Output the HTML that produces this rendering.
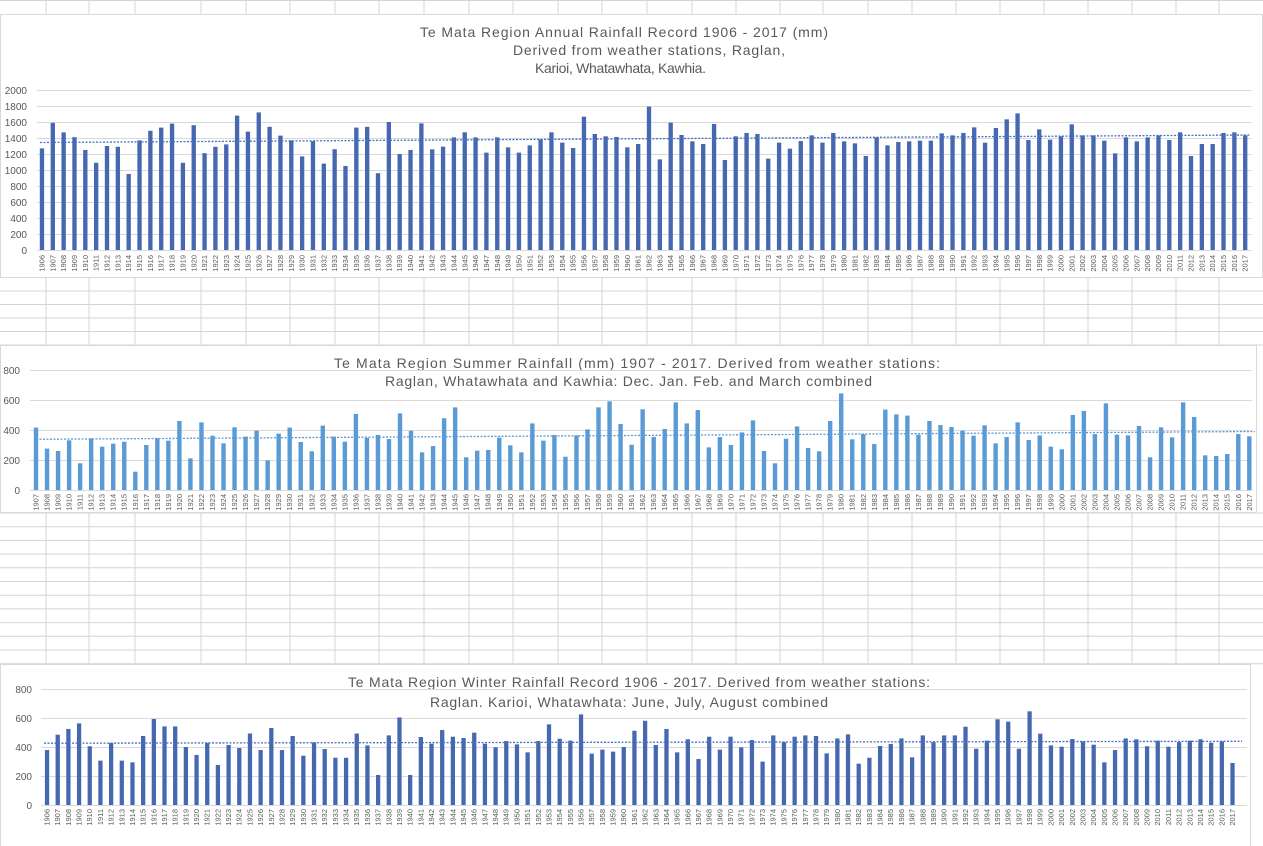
<!DOCTYPE html>
<html><head><meta charset="utf-8"><style>
html,body{margin:0;padding:0;background:#fff;}
svg{display:block;font-family:"Liberation Sans",sans-serif;}
.t{fill:#595959;font-size:14px;}
.ax{fill:#595959;font-size:10px;text-anchor:end;}
.yl text{fill:#595959;font-size:7.5px;text-anchor:end;}
.g line{stroke:#d9d9d9;stroke-width:1;}
.b1 rect,.b3 rect{fill:#4668b0;}
.b2 rect{fill:#5b9bd5;}
</style></head><body>
<svg width="1263" height="846" viewBox="0 0 1263 846" xmlns="http://www.w3.org/2000/svg">
<!-- spreadsheet grid -->
<g stroke="#d4d4d4" stroke-width="1">
<line x1="0" y1="0.5" x2="1263" y2="0.5"/><line x1="0" y1="14.5" x2="1263" y2="14.5"/>
<line x1="0" y1="277.5" x2="1263" y2="277.5"/><line x1="0" y1="291" x2="1263" y2="291"/><line x1="0" y1="304.5" x2="1263" y2="304.5"/><line x1="0" y1="318" x2="1263" y2="318"/><line x1="0" y1="331.5" x2="1263" y2="331.5"/><line x1="0" y1="345" x2="1263" y2="345"/>
<line x1="0" y1="513" x2="1263" y2="513"/><line x1="0" y1="526.7" x2="1263" y2="526.7"/><line x1="0" y1="540.4" x2="1263" y2="540.4"/><line x1="0" y1="554.1" x2="1263" y2="554.1"/><line x1="0" y1="567.8" x2="1263" y2="567.8"/><line x1="0" y1="581.5" x2="1263" y2="581.5"/><line x1="0" y1="595.2" x2="1263" y2="595.2"/><line x1="0" y1="608.9" x2="1263" y2="608.9"/><line x1="0" y1="622.6" x2="1263" y2="622.6"/><line x1="0" y1="636.3" x2="1263" y2="636.3"/><line x1="0" y1="650" x2="1263" y2="650"/><line x1="0" y1="663.7" x2="1263" y2="663.7"/>
<line x1="46" y1="0" x2="46" y2="846"/><line x1="89" y1="0" x2="89" y2="846"/><line x1="135" y1="0" x2="135" y2="846"/><line x1="201" y1="0" x2="201" y2="846"/><line x1="246" y1="0" x2="246" y2="846"/><line x1="290" y1="0" x2="290" y2="846"/><line x1="335" y1="0" x2="335" y2="846"/><line x1="379" y1="0" x2="379" y2="846"/><line x1="424" y1="0" x2="424" y2="846"/><line x1="469" y1="0" x2="469" y2="846"/><line x1="513" y1="0" x2="513" y2="846"/><line x1="558" y1="0" x2="558" y2="846"/><line x1="602" y1="0" x2="602" y2="846"/><line x1="647" y1="0" x2="647" y2="846"/><line x1="692" y1="0" x2="692" y2="846"/><line x1="736" y1="0" x2="736" y2="846"/><line x1="780" y1="0" x2="780" y2="846"/><line x1="823" y1="0" x2="823" y2="846"/><line x1="868" y1="0" x2="868" y2="846"/><line x1="912" y1="0" x2="912" y2="846"/><line x1="956" y1="0" x2="956" y2="846"/><line x1="1000" y1="0" x2="1000" y2="846"/><line x1="1044" y1="0" x2="1044" y2="846"/><line x1="1088" y1="0" x2="1088" y2="846"/><line x1="1132" y1="0" x2="1132" y2="846"/><line x1="1176" y1="0" x2="1176" y2="846"/><line x1="1219" y1="0" x2="1219" y2="846"/>
</g>
<!-- chart boxes -->
<rect x="0.5" y="14.5" width="1262" height="263" fill="#fff" stroke="#d9d9d9"/>
<rect x="0.5" y="345.5" width="1256" height="167" fill="#fff" stroke="#d9d9d9"/>
<rect x="0.5" y="664.5" width="1250" height="185" fill="#fff" stroke="#d9d9d9"/>

<!-- ===== CHART 1 ===== -->
<text class="t" x="420" y="37" textLength="408">Te Mata Region Annual Rainfall Record 1906 - 2017 (mm)</text>
<text class="t" x="513" y="55" textLength="272">Derived from weather stations, Raglan,</text>
<text class="t" x="535" y="73" textLength="171">Karioi, Whatawhata, Kawhia.</text>
<g class="g"><line x1="37" y1="250.5" x2="1252" y2="250.5"/><line x1="37" y1="234.5" x2="1252" y2="234.5"/><line x1="37" y1="218.5" x2="1252" y2="218.5"/><line x1="37" y1="202.5" x2="1252" y2="202.5"/><line x1="37" y1="186.5" x2="1252" y2="186.5"/><line x1="37" y1="170.5" x2="1252" y2="170.5"/><line x1="37" y1="154.5" x2="1252" y2="154.5"/><line x1="37" y1="138.5" x2="1252" y2="138.5"/><line x1="37" y1="122.5" x2="1252" y2="122.5"/><line x1="37" y1="106.5" x2="1252" y2="106.5"/><line x1="37" y1="90.5" x2="1252" y2="90.5"/></g>
<g class="ax"><text x="27" y="254">0</text><text x="27" y="238">200</text><text x="27" y="222">400</text><text x="27" y="206">600</text><text x="27" y="190">800</text><text x="27" y="174">1000</text><text x="27" y="158">1200</text><text x="27" y="142">1400</text><text x="27" y="126">1600</text><text x="27" y="110">1800</text><text x="27" y="94">2000</text></g>
<g class="b1" transform="translate(39.8,250) scale(10.84,-0.08)">
<rect x="0" width=".4" height="1270"/><rect x="1" width=".4" height="1590"/><rect x="2" width=".4" height="1470"/><rect x="3" width=".4" height="1410"/><rect x="4" width=".4" height="1250"/><rect x="5" width=".4" height="1090"/><rect x="6" width=".4" height="1300"/><rect x="7" width=".4" height="1290"/><rect x="8" width=".4" height="950"/><rect x="9" width=".4" height="1370"/>
<rect x="10" width=".4" height="1490"/><rect x="11" width=".4" height="1530"/><rect x="12" width=".4" height="1580"/><rect x="13" width=".4" height="1090"/><rect x="14" width=".4" height="1560"/><rect x="15" width=".4" height="1210"/><rect x="16" width=".4" height="1290"/><rect x="17" width=".4" height="1320"/><rect x="18" width=".4" height="1680"/><rect x="19" width=".4" height="1480"/>
<rect x="20" width=".4" height="1720"/><rect x="21" width=".4" height="1540"/><rect x="22" width=".4" height="1430"/><rect x="23" width=".4" height="1370"/><rect x="24" width=".4" height="1170"/><rect x="25" width=".4" height="1360"/><rect x="26" width=".4" height="1080"/><rect x="27" width=".4" height="1260"/><rect x="28" width=".4" height="1050"/><rect x="29" width=".4" height="1530"/>
<rect x="30" width=".4" height="1540"/><rect x="31" width=".4" height="960"/><rect x="32" width=".4" height="1600"/><rect x="33" width=".4" height="1200"/><rect x="34" width=".4" height="1250"/><rect x="35" width=".4" height="1583"/><rect x="36" width=".4" height="1258"/><rect x="37" width=".4" height="1292"/><rect x="38" width=".4" height="1408"/><rect x="39" width=".4" height="1471"/>
<rect x="40" width=".4" height="1408"/><rect x="41" width=".4" height="1217"/><rect x="42" width=".4" height="1408"/><rect x="43" width=".4" height="1283"/><rect x="44" width=".4" height="1217"/><rect x="45" width=".4" height="1308"/><rect x="46" width=".4" height="1383"/><rect x="47" width=".4" height="1471"/><rect x="48" width=".4" height="1342"/><rect x="49" width=".4" height="1275"/>
<rect x="50" width=".4" height="1667"/><rect x="51" width=".4" height="1450"/><rect x="52" width=".4" height="1421"/><rect x="53" width=".4" height="1413"/><rect x="54" width=".4" height="1283"/><rect x="55" width=".4" height="1325"/><rect x="56" width=".4" height="1792"/><rect x="57" width=".4" height="1133"/><rect x="58" width=".4" height="1592"/><rect x="59" width=".4" height="1438"/>
<rect x="60" width=".4" height="1358"/><rect x="61" width=".4" height="1325"/><rect x="62" width=".4" height="1575"/><rect x="63" width=".4" height="1125"/><rect x="64" width=".4" height="1421"/><rect x="65" width=".4" height="1463"/><rect x="66" width=".4" height="1450"/><rect x="67" width=".4" height="1142"/><rect x="68" width=".4" height="1342"/><rect x="69" width=".4" height="1267"/>
<rect x="70" width=".4" height="1362"/><rect x="71" width=".4" height="1433"/><rect x="72" width=".4" height="1342"/><rect x="73" width=".4" height="1463"/><rect x="74" width=".4" height="1358"/><rect x="75" width=".4" height="1333"/><rect x="76" width=".4" height="1175"/><rect x="77" width=".4" height="1408"/><rect x="78" width=".4" height="1308"/><rect x="79" width=".4" height="1350"/>
<rect x="80" width=".4" height="1358"/><rect x="81" width=".4" height="1367"/><rect x="82" width=".4" height="1367"/><rect x="83" width=".4" height="1458"/><rect x="84" width=".4" height="1433"/><rect x="85" width=".4" height="1463"/><rect x="86" width=".4" height="1533"/><rect x="87" width=".4" height="1342"/><rect x="88" width=".4" height="1525"/><rect x="89" width=".4" height="1633"/>
<rect x="90" width=".4" height="1708"/><rect x="91" width=".4" height="1375"/><rect x="92" width=".4" height="1508"/><rect x="93" width=".4" height="1379"/><rect x="94" width=".4" height="1421"/><rect x="95" width=".4" height="1571"/><rect x="96" width=".4" height="1433"/><rect x="97" width=".4" height="1433"/><rect x="98" width=".4" height="1367"/><rect x="99" width=".4" height="1208"/>
<rect x="100" width=".4" height="1408"/><rect x="101" width=".4" height="1358"/><rect x="102" width=".4" height="1408"/><rect x="103" width=".4" height="1433"/><rect x="104" width=".4" height="1375"/><rect x="105" width=".4" height="1471"/><rect x="106" width=".4" height="1175"/><rect x="107" width=".4" height="1325"/><rect x="108" width=".4" height="1325"/><rect x="109" width=".4" height="1463"/>
<rect x="110" width=".4" height="1471"/><rect x="111" width=".4" height="1433"/>
</g>
<line x1="40" y1="142.5" x2="1250" y2="135" stroke="#4472c4" stroke-width="1.3" stroke-dasharray="2,1.5"/>
<g class="yl" transform="translate(44.5,255) scale(10.84,1)">
<g transform="translate(0) scale(.09225,1) rotate(-90)"><text>1906</text></g><g transform="translate(1) scale(.09225,1) rotate(-90)"><text>1907</text></g><g transform="translate(2) scale(.09225,1) rotate(-90)"><text>1908</text></g><g transform="translate(3) scale(.09225,1) rotate(-90)"><text>1909</text></g><g transform="translate(4) scale(.09225,1) rotate(-90)"><text>1910</text></g><g transform="translate(5) scale(.09225,1) rotate(-90)"><text>1911</text></g><g transform="translate(6) scale(.09225,1) rotate(-90)"><text>1912</text></g><g transform="translate(7) scale(.09225,1) rotate(-90)"><text>1913</text></g><g transform="translate(8) scale(.09225,1) rotate(-90)"><text>1914</text></g><g transform="translate(9) scale(.09225,1) rotate(-90)"><text>1915</text></g>
<g transform="translate(10) scale(.09225,1) rotate(-90)"><text>1916</text></g><g transform="translate(11) scale(.09225,1) rotate(-90)"><text>1917</text></g><g transform="translate(12) scale(.09225,1) rotate(-90)"><text>1918</text></g><g transform="translate(13) scale(.09225,1) rotate(-90)"><text>1919</text></g><g transform="translate(14) scale(.09225,1) rotate(-90)"><text>1920</text></g><g transform="translate(15) scale(.09225,1) rotate(-90)"><text>1921</text></g><g transform="translate(16) scale(.09225,1) rotate(-90)"><text>1922</text></g><g transform="translate(17) scale(.09225,1) rotate(-90)"><text>1923</text></g><g transform="translate(18) scale(.09225,1) rotate(-90)"><text>1924</text></g><g transform="translate(19) scale(.09225,1) rotate(-90)"><text>1925</text></g>
<g transform="translate(20) scale(.09225,1) rotate(-90)"><text>1926</text></g><g transform="translate(21) scale(.09225,1) rotate(-90)"><text>1927</text></g><g transform="translate(22) scale(.09225,1) rotate(-90)"><text>1928</text></g><g transform="translate(23) scale(.09225,1) rotate(-90)"><text>1929</text></g><g transform="translate(24) scale(.09225,1) rotate(-90)"><text>1930</text></g><g transform="translate(25) scale(.09225,1) rotate(-90)"><text>1931</text></g><g transform="translate(26) scale(.09225,1) rotate(-90)"><text>1932</text></g><g transform="translate(27) scale(.09225,1) rotate(-90)"><text>1933</text></g><g transform="translate(28) scale(.09225,1) rotate(-90)"><text>1934</text></g><g transform="translate(29) scale(.09225,1) rotate(-90)"><text>1935</text></g>
<g transform="translate(30) scale(.09225,1) rotate(-90)"><text>1936</text></g><g transform="translate(31) scale(.09225,1) rotate(-90)"><text>1937</text></g><g transform="translate(32) scale(.09225,1) rotate(-90)"><text>1938</text></g><g transform="translate(33) scale(.09225,1) rotate(-90)"><text>1939</text></g><g transform="translate(34) scale(.09225,1) rotate(-90)"><text>1940</text></g><g transform="translate(35) scale(.09225,1) rotate(-90)"><text>1941</text></g><g transform="translate(36) scale(.09225,1) rotate(-90)"><text>1942</text></g><g transform="translate(37) scale(.09225,1) rotate(-90)"><text>1943</text></g><g transform="translate(38) scale(.09225,1) rotate(-90)"><text>1944</text></g><g transform="translate(39) scale(.09225,1) rotate(-90)"><text>1945</text></g>
<g transform="translate(40) scale(.09225,1) rotate(-90)"><text>1946</text></g><g transform="translate(41) scale(.09225,1) rotate(-90)"><text>1947</text></g><g transform="translate(42) scale(.09225,1) rotate(-90)"><text>1948</text></g><g transform="translate(43) scale(.09225,1) rotate(-90)"><text>1949</text></g><g transform="translate(44) scale(.09225,1) rotate(-90)"><text>1950</text></g><g transform="translate(45) scale(.09225,1) rotate(-90)"><text>1951</text></g><g transform="translate(46) scale(.09225,1) rotate(-90)"><text>1952</text></g><g transform="translate(47) scale(.09225,1) rotate(-90)"><text>1953</text></g><g transform="translate(48) scale(.09225,1) rotate(-90)"><text>1954</text></g><g transform="translate(49) scale(.09225,1) rotate(-90)"><text>1955</text></g>
<g transform="translate(50) scale(.09225,1) rotate(-90)"><text>1956</text></g><g transform="translate(51) scale(.09225,1) rotate(-90)"><text>1957</text></g><g transform="translate(52) scale(.09225,1) rotate(-90)"><text>1958</text></g><g transform="translate(53) scale(.09225,1) rotate(-90)"><text>1959</text></g><g transform="translate(54) scale(.09225,1) rotate(-90)"><text>1960</text></g><g transform="translate(55) scale(.09225,1) rotate(-90)"><text>1961</text></g><g transform="translate(56) scale(.09225,1) rotate(-90)"><text>1962</text></g><g transform="translate(57) scale(.09225,1) rotate(-90)"><text>1963</text></g><g transform="translate(58) scale(.09225,1) rotate(-90)"><text>1964</text></g><g transform="translate(59) scale(.09225,1) rotate(-90)"><text>1965</text></g>
<g transform="translate(60) scale(.09225,1) rotate(-90)"><text>1966</text></g><g transform="translate(61) scale(.09225,1) rotate(-90)"><text>1967</text></g><g transform="translate(62) scale(.09225,1) rotate(-90)"><text>1968</text></g><g transform="translate(63) scale(.09225,1) rotate(-90)"><text>1969</text></g><g transform="translate(64) scale(.09225,1) rotate(-90)"><text>1970</text></g><g transform="translate(65) scale(.09225,1) rotate(-90)"><text>1971</text></g><g transform="translate(66) scale(.09225,1) rotate(-90)"><text>1972</text></g><g transform="translate(67) scale(.09225,1) rotate(-90)"><text>1973</text></g><g transform="translate(68) scale(.09225,1) rotate(-90)"><text>1974</text></g><g transform="translate(69) scale(.09225,1) rotate(-90)"><text>1975</text></g>
<g transform="translate(70) scale(.09225,1) rotate(-90)"><text>1976</text></g><g transform="translate(71) scale(.09225,1) rotate(-90)"><text>1977</text></g><g transform="translate(72) scale(.09225,1) rotate(-90)"><text>1978</text></g><g transform="translate(73) scale(.09225,1) rotate(-90)"><text>1979</text></g><g transform="translate(74) scale(.09225,1) rotate(-90)"><text>1980</text></g><g transform="translate(75) scale(.09225,1) rotate(-90)"><text>1981</text></g><g transform="translate(76) scale(.09225,1) rotate(-90)"><text>1982</text></g><g transform="translate(77) scale(.09225,1) rotate(-90)"><text>1983</text></g><g transform="translate(78) scale(.09225,1) rotate(-90)"><text>1984</text></g><g transform="translate(79) scale(.09225,1) rotate(-90)"><text>1985</text></g>
<g transform="translate(80) scale(.09225,1) rotate(-90)"><text>1986</text></g><g transform="translate(81) scale(.09225,1) rotate(-90)"><text>1987</text></g><g transform="translate(82) scale(.09225,1) rotate(-90)"><text>1988</text></g><g transform="translate(83) scale(.09225,1) rotate(-90)"><text>1989</text></g><g transform="translate(84) scale(.09225,1) rotate(-90)"><text>1990</text></g><g transform="translate(85) scale(.09225,1) rotate(-90)"><text>1991</text></g><g transform="translate(86) scale(.09225,1) rotate(-90)"><text>1992</text></g><g transform="translate(87) scale(.09225,1) rotate(-90)"><text>1993</text></g><g transform="translate(88) scale(.09225,1) rotate(-90)"><text>1994</text></g><g transform="translate(89) scale(.09225,1) rotate(-90)"><text>1995</text></g>
<g transform="translate(90) scale(.09225,1) rotate(-90)"><text>1996</text></g><g transform="translate(91) scale(.09225,1) rotate(-90)"><text>1997</text></g><g transform="translate(92) scale(.09225,1) rotate(-90)"><text>1998</text></g><g transform="translate(93) scale(.09225,1) rotate(-90)"><text>1999</text></g><g transform="translate(94) scale(.09225,1) rotate(-90)"><text>2000</text></g><g transform="translate(95) scale(.09225,1) rotate(-90)"><text>2001</text></g><g transform="translate(96) scale(.09225,1) rotate(-90)"><text>2002</text></g><g transform="translate(97) scale(.09225,1) rotate(-90)"><text>2003</text></g><g transform="translate(98) scale(.09225,1) rotate(-90)"><text>2004</text></g><g transform="translate(99) scale(.09225,1) rotate(-90)"><text>2005</text></g>
<g transform="translate(100) scale(.09225,1) rotate(-90)"><text>2006</text></g><g transform="translate(101) scale(.09225,1) rotate(-90)"><text>2007</text></g><g transform="translate(102) scale(.09225,1) rotate(-90)"><text>2008</text></g><g transform="translate(103) scale(.09225,1) rotate(-90)"><text>2009</text></g><g transform="translate(104) scale(.09225,1) rotate(-90)"><text>2010</text></g><g transform="translate(105) scale(.09225,1) rotate(-90)"><text>2011</text></g><g transform="translate(106) scale(.09225,1) rotate(-90)"><text>2012</text></g><g transform="translate(107) scale(.09225,1) rotate(-90)"><text>2013</text></g><g transform="translate(108) scale(.09225,1) rotate(-90)"><text>2014</text></g><g transform="translate(109) scale(.09225,1) rotate(-90)"><text>2015</text></g>
<g transform="translate(110) scale(.09225,1) rotate(-90)"><text>2016</text></g><g transform="translate(111) scale(.09225,1) rotate(-90)"><text>2017</text></g>
</g>

<!-- ===== CHART 2 ===== -->
<text class="t" x="334" y="368" textLength="606">Te  Mata Region Summer Rainfall (mm) 1907 - 2017. Derived from weather stations:</text>
<text class="t" x="385" y="386" textLength="487">Raglan, Whatawhata and Kawhia: Dec. Jan. Feb. and March combined</text>
<g class="g"><line x1="30" y1="490.5" x2="1252" y2="490.5"/><line x1="30" y1="460.5" x2="1252" y2="460.5"/><line x1="30" y1="430.5" x2="1252" y2="430.5"/><line x1="30" y1="400.5" x2="1252" y2="400.5"/><line x1="30" y1="370.5" x2="1252" y2="370.5"/></g>
<g class="ax"><text x="20" y="494">0</text><text x="20" y="464">200</text><text x="20" y="434">400</text><text x="20" y="404">600</text><text x="20" y="374">800</text></g>
<g class="b2" transform="translate(33.8,490) scale(11.03,-0.15)">
<rect x="0" width=".4" height="416"/><rect x="1" width=".4" height="276"/><rect x="2" width=".4" height="260"/><rect x="3" width=".4" height="331"/><rect x="4" width=".4" height="178"/><rect x="5" width=".4" height="344"/><rect x="6" width=".4" height="289"/><rect x="7" width=".4" height="309"/><rect x="8" width=".4" height="322"/><rect x="9" width=".4" height="122"/>
<rect x="10" width=".4" height="300"/><rect x="11" width=".4" height="344"/><rect x="12" width=".4" height="329"/><rect x="13" width=".4" height="460"/><rect x="14" width=".4" height="211"/><rect x="15" width=".4" height="451"/><rect x="16" width=".4" height="362"/><rect x="17" width=".4" height="311"/><rect x="18" width=".4" height="418"/><rect x="19" width=".4" height="356"/>
<rect x="20" width=".4" height="396"/><rect x="21" width=".4" height="198"/><rect x="22" width=".4" height="376"/><rect x="23" width=".4" height="416"/><rect x="24" width=".4" height="320"/><rect x="25" width=".4" height="258"/><rect x="26" width=".4" height="429"/><rect x="27" width=".4" height="356"/><rect x="28" width=".4" height="322"/><rect x="29" width=".4" height="507"/>
<rect x="30" width=".4" height="347"/><rect x="31" width=".4" height="367"/><rect x="32" width=".4" height="340"/><rect x="33" width=".4" height="511"/><rect x="34" width=".4" height="395"/><rect x="35" width=".4" height="251"/><rect x="36" width=".4" height="293"/><rect x="37" width=".4" height="478"/><rect x="38" width=".4" height="551"/><rect x="39" width=".4" height="218"/>
<rect x="40" width=".4" height="262"/><rect x="41" width=".4" height="267"/><rect x="42" width=".4" height="349"/><rect x="43" width=".4" height="298"/><rect x="44" width=".4" height="251"/><rect x="45" width=".4" height="444"/><rect x="46" width=".4" height="329"/><rect x="47" width=".4" height="367"/><rect x="48" width=".4" height="222"/><rect x="49" width=".4" height="364"/>
<rect x="50" width=".4" height="404"/><rect x="51" width=".4" height="551"/><rect x="52" width=".4" height="591"/><rect x="53" width=".4" height="440"/><rect x="54" width=".4" height="302"/><rect x="55" width=".4" height="538"/><rect x="56" width=".4" height="353"/><rect x="57" width=".4" height="407"/><rect x="58" width=".4" height="584"/><rect x="59" width=".4" height="444"/>
<rect x="60" width=".4" height="533"/><rect x="61" width=".4" height="284"/><rect x="62" width=".4" height="353"/><rect x="63" width=".4" height="300"/><rect x="64" width=".4" height="384"/><rect x="65" width=".4" height="464"/><rect x="66" width=".4" height="260"/><rect x="67" width=".4" height="178"/><rect x="68" width=".4" height="342"/><rect x="69" width=".4" height="424"/>
<rect x="70" width=".4" height="280"/><rect x="71" width=".4" height="258"/><rect x="72" width=".4" height="460"/><rect x="73" width=".4" height="644"/><rect x="74" width=".4" height="338"/><rect x="75" width=".4" height="373"/><rect x="76" width=".4" height="307"/><rect x="77" width=".4" height="536"/><rect x="78" width=".4" height="504"/><rect x="79" width=".4" height="496"/>
<rect x="80" width=".4" height="369"/><rect x="81" width=".4" height="460"/><rect x="82" width=".4" height="433"/><rect x="83" width=".4" height="420"/><rect x="84" width=".4" height="396"/><rect x="85" width=".4" height="362"/><rect x="86" width=".4" height="431"/><rect x="87" width=".4" height="311"/><rect x="88" width=".4" height="353"/><rect x="89" width=".4" height="451"/>
<rect x="90" width=".4" height="333"/><rect x="91" width=".4" height="364"/><rect x="92" width=".4" height="289"/><rect x="93" width=".4" height="271"/><rect x="94" width=".4" height="500"/><rect x="95" width=".4" height="527"/><rect x="96" width=".4" height="373"/><rect x="97" width=".4" height="578"/><rect x="98" width=".4" height="369"/><rect x="99" width=".4" height="364"/>
<rect x="100" width=".4" height="427"/><rect x="101" width=".4" height="218"/><rect x="102" width=".4" height="418"/><rect x="103" width=".4" height="351"/><rect x="104" width=".4" height="584"/><rect x="105" width=".4" height="487"/><rect x="106" width=".4" height="231"/><rect x="107" width=".4" height="227"/><rect x="108" width=".4" height="240"/><rect x="109" width=".4" height="373"/>
<rect x="110" width=".4" height="358"/>
</g>
<line x1="36" y1="439.3" x2="1255" y2="431.5" stroke="#5b9bd5" stroke-width="1.3" stroke-dasharray="2,1.5"/>
<g class="yl" transform="translate(38.5,494) scale(11.03,1)">
<g transform="translate(0) scale(.09066,1) rotate(-90)"><text>1907</text></g><g transform="translate(1) scale(.09066,1) rotate(-90)"><text>1908</text></g><g transform="translate(2) scale(.09066,1) rotate(-90)"><text>1909</text></g><g transform="translate(3) scale(.09066,1) rotate(-90)"><text>1910</text></g><g transform="translate(4) scale(.09066,1) rotate(-90)"><text>1911</text></g><g transform="translate(5) scale(.09066,1) rotate(-90)"><text>1912</text></g><g transform="translate(6) scale(.09066,1) rotate(-90)"><text>1913</text></g><g transform="translate(7) scale(.09066,1) rotate(-90)"><text>1914</text></g><g transform="translate(8) scale(.09066,1) rotate(-90)"><text>1915</text></g><g transform="translate(9) scale(.09066,1) rotate(-90)"><text>1916</text></g>
<g transform="translate(10) scale(.09066,1) rotate(-90)"><text>1917</text></g><g transform="translate(11) scale(.09066,1) rotate(-90)"><text>1918</text></g><g transform="translate(12) scale(.09066,1) rotate(-90)"><text>1919</text></g><g transform="translate(13) scale(.09066,1) rotate(-90)"><text>1920</text></g><g transform="translate(14) scale(.09066,1) rotate(-90)"><text>1921</text></g><g transform="translate(15) scale(.09066,1) rotate(-90)"><text>1922</text></g><g transform="translate(16) scale(.09066,1) rotate(-90)"><text>1923</text></g><g transform="translate(17) scale(.09066,1) rotate(-90)"><text>1924</text></g><g transform="translate(18) scale(.09066,1) rotate(-90)"><text>1925</text></g><g transform="translate(19) scale(.09066,1) rotate(-90)"><text>1926</text></g>
<g transform="translate(20) scale(.09066,1) rotate(-90)"><text>1927</text></g><g transform="translate(21) scale(.09066,1) rotate(-90)"><text>1928</text></g><g transform="translate(22) scale(.09066,1) rotate(-90)"><text>1929</text></g><g transform="translate(23) scale(.09066,1) rotate(-90)"><text>1930</text></g><g transform="translate(24) scale(.09066,1) rotate(-90)"><text>1931</text></g><g transform="translate(25) scale(.09066,1) rotate(-90)"><text>1932</text></g><g transform="translate(26) scale(.09066,1) rotate(-90)"><text>1933</text></g><g transform="translate(27) scale(.09066,1) rotate(-90)"><text>1934</text></g><g transform="translate(28) scale(.09066,1) rotate(-90)"><text>1935</text></g><g transform="translate(29) scale(.09066,1) rotate(-90)"><text>1936</text></g>
<g transform="translate(30) scale(.09066,1) rotate(-90)"><text>1937</text></g><g transform="translate(31) scale(.09066,1) rotate(-90)"><text>1938</text></g><g transform="translate(32) scale(.09066,1) rotate(-90)"><text>1939</text></g><g transform="translate(33) scale(.09066,1) rotate(-90)"><text>1940</text></g><g transform="translate(34) scale(.09066,1) rotate(-90)"><text>1941</text></g><g transform="translate(35) scale(.09066,1) rotate(-90)"><text>1942</text></g><g transform="translate(36) scale(.09066,1) rotate(-90)"><text>1943</text></g><g transform="translate(37) scale(.09066,1) rotate(-90)"><text>1944</text></g><g transform="translate(38) scale(.09066,1) rotate(-90)"><text>1945</text></g><g transform="translate(39) scale(.09066,1) rotate(-90)"><text>1946</text></g>
<g transform="translate(40) scale(.09066,1) rotate(-90)"><text>1947</text></g><g transform="translate(41) scale(.09066,1) rotate(-90)"><text>1948</text></g><g transform="translate(42) scale(.09066,1) rotate(-90)"><text>1949</text></g><g transform="translate(43) scale(.09066,1) rotate(-90)"><text>1950</text></g><g transform="translate(44) scale(.09066,1) rotate(-90)"><text>1951</text></g><g transform="translate(45) scale(.09066,1) rotate(-90)"><text>1952</text></g><g transform="translate(46) scale(.09066,1) rotate(-90)"><text>1953</text></g><g transform="translate(47) scale(.09066,1) rotate(-90)"><text>1954</text></g><g transform="translate(48) scale(.09066,1) rotate(-90)"><text>1955</text></g><g transform="translate(49) scale(.09066,1) rotate(-90)"><text>1956</text></g>
<g transform="translate(50) scale(.09066,1) rotate(-90)"><text>1957</text></g><g transform="translate(51) scale(.09066,1) rotate(-90)"><text>1958</text></g><g transform="translate(52) scale(.09066,1) rotate(-90)"><text>1959</text></g><g transform="translate(53) scale(.09066,1) rotate(-90)"><text>1960</text></g><g transform="translate(54) scale(.09066,1) rotate(-90)"><text>1961</text></g><g transform="translate(55) scale(.09066,1) rotate(-90)"><text>1962</text></g><g transform="translate(56) scale(.09066,1) rotate(-90)"><text>1963</text></g><g transform="translate(57) scale(.09066,1) rotate(-90)"><text>1964</text></g><g transform="translate(58) scale(.09066,1) rotate(-90)"><text>1965</text></g><g transform="translate(59) scale(.09066,1) rotate(-90)"><text>1966</text></g>
<g transform="translate(60) scale(.09066,1) rotate(-90)"><text>1967</text></g><g transform="translate(61) scale(.09066,1) rotate(-90)"><text>1968</text></g><g transform="translate(62) scale(.09066,1) rotate(-90)"><text>1969</text></g><g transform="translate(63) scale(.09066,1) rotate(-90)"><text>1970</text></g><g transform="translate(64) scale(.09066,1) rotate(-90)"><text>1971</text></g><g transform="translate(65) scale(.09066,1) rotate(-90)"><text>1972</text></g><g transform="translate(66) scale(.09066,1) rotate(-90)"><text>1973</text></g><g transform="translate(67) scale(.09066,1) rotate(-90)"><text>1974</text></g><g transform="translate(68) scale(.09066,1) rotate(-90)"><text>1975</text></g><g transform="translate(69) scale(.09066,1) rotate(-90)"><text>1976</text></g>
<g transform="translate(70) scale(.09066,1) rotate(-90)"><text>1977</text></g><g transform="translate(71) scale(.09066,1) rotate(-90)"><text>1978</text></g><g transform="translate(72) scale(.09066,1) rotate(-90)"><text>1979</text></g><g transform="translate(73) scale(.09066,1) rotate(-90)"><text>1980</text></g><g transform="translate(74) scale(.09066,1) rotate(-90)"><text>1981</text></g><g transform="translate(75) scale(.09066,1) rotate(-90)"><text>1982</text></g><g transform="translate(76) scale(.09066,1) rotate(-90)"><text>1983</text></g><g transform="translate(77) scale(.09066,1) rotate(-90)"><text>1984</text></g><g transform="translate(78) scale(.09066,1) rotate(-90)"><text>1985</text></g><g transform="translate(79) scale(.09066,1) rotate(-90)"><text>1986</text></g>
<g transform="translate(80) scale(.09066,1) rotate(-90)"><text>1987</text></g><g transform="translate(81) scale(.09066,1) rotate(-90)"><text>1988</text></g><g transform="translate(82) scale(.09066,1) rotate(-90)"><text>1989</text></g><g transform="translate(83) scale(.09066,1) rotate(-90)"><text>1990</text></g><g transform="translate(84) scale(.09066,1) rotate(-90)"><text>1991</text></g><g transform="translate(85) scale(.09066,1) rotate(-90)"><text>1992</text></g><g transform="translate(86) scale(.09066,1) rotate(-90)"><text>1993</text></g><g transform="translate(87) scale(.09066,1) rotate(-90)"><text>1994</text></g><g transform="translate(88) scale(.09066,1) rotate(-90)"><text>1995</text></g><g transform="translate(89) scale(.09066,1) rotate(-90)"><text>1996</text></g>
<g transform="translate(90) scale(.09066,1) rotate(-90)"><text>1997</text></g><g transform="translate(91) scale(.09066,1) rotate(-90)"><text>1998</text></g><g transform="translate(92) scale(.09066,1) rotate(-90)"><text>1999</text></g><g transform="translate(93) scale(.09066,1) rotate(-90)"><text>2000</text></g><g transform="translate(94) scale(.09066,1) rotate(-90)"><text>2001</text></g><g transform="translate(95) scale(.09066,1) rotate(-90)"><text>2002</text></g><g transform="translate(96) scale(.09066,1) rotate(-90)"><text>2003</text></g><g transform="translate(97) scale(.09066,1) rotate(-90)"><text>2004</text></g><g transform="translate(98) scale(.09066,1) rotate(-90)"><text>2005</text></g><g transform="translate(99) scale(.09066,1) rotate(-90)"><text>2006</text></g>
<g transform="translate(100) scale(.09066,1) rotate(-90)"><text>2007</text></g><g transform="translate(101) scale(.09066,1) rotate(-90)"><text>2008</text></g><g transform="translate(102) scale(.09066,1) rotate(-90)"><text>2009</text></g><g transform="translate(103) scale(.09066,1) rotate(-90)"><text>2010</text></g><g transform="translate(104) scale(.09066,1) rotate(-90)"><text>2011</text></g><g transform="translate(105) scale(.09066,1) rotate(-90)"><text>2012</text></g><g transform="translate(106) scale(.09066,1) rotate(-90)"><text>2013</text></g><g transform="translate(107) scale(.09066,1) rotate(-90)"><text>2014</text></g><g transform="translate(108) scale(.09066,1) rotate(-90)"><text>2015</text></g><g transform="translate(109) scale(.09066,1) rotate(-90)"><text>2016</text></g>
<g transform="translate(110) scale(.09066,1) rotate(-90)"><text>2017</text></g>
</g>

<!-- ===== CHART 3 ===== -->
<text class="t" x="348" y="687" textLength="582">Te Mata Region Winter Rainfall Record 1906 - 2017. Derived from weather stations:</text>
<text class="t" x="430" y="707" textLength="398">Raglan. Karioi, Whatawhata: June, July, August combined</text>
<g class="g"><line x1="41" y1="805.5" x2="1247" y2="805.5"/><line x1="41" y1="776.5" x2="1247" y2="776.5"/><line x1="41" y1="747.5" x2="1247" y2="747.5"/><line x1="41" y1="718.5" x2="1247" y2="718.5"/><line x1="41" y1="689.5" x2="1247" y2="689.5"/></g>
<g class="ax"><text x="32" y="809">0</text><text x="32" y="780">200</text><text x="32" y="751">400</text><text x="32" y="722">600</text><text x="32" y="693">800</text></g>
<g class="b3" transform="translate(44.9,805) scale(10.68,-0.145)">
<rect x="0" width=".4" height="379"/><rect x="1" width=".4" height="485"/><rect x="2" width=".4" height="524"/><rect x="3" width=".4" height="563"/><rect x="4" width=".4" height="405"/><rect x="5" width=".4" height="306"/><rect x="6" width=".4" height="428"/><rect x="7" width=".4" height="306"/><rect x="8" width=".4" height="294"/><rect x="9" width=".4" height="476"/>
<rect x="10" width=".4" height="593"/><rect x="11" width=".4" height="542"/><rect x="12" width=".4" height="542"/><rect x="13" width=".4" height="400"/><rect x="14" width=".4" height="345"/><rect x="15" width=".4" height="428"/><rect x="16" width=".4" height="276"/><rect x="17" width=".4" height="414"/><rect x="18" width=".4" height="393"/><rect x="19" width=".4" height="493"/>
<rect x="20" width=".4" height="379"/><rect x="21" width=".4" height="531"/><rect x="22" width=".4" height="379"/><rect x="23" width=".4" height="476"/><rect x="24" width=".4" height="340"/><rect x="25" width=".4" height="432"/><rect x="26" width=".4" height="386"/><rect x="27" width=".4" height="326"/><rect x="28" width=".4" height="326"/><rect x="29" width=".4" height="493"/>
<rect x="30" width=".4" height="411"/><rect x="31" width=".4" height="207"/><rect x="32" width=".4" height="480"/><rect x="33" width=".4" height="604"/><rect x="34" width=".4" height="207"/><rect x="35" width=".4" height="469"/><rect x="36" width=".4" height="423"/><rect x="37" width=".4" height="517"/><rect x="38" width=".4" height="471"/><rect x="39" width=".4" height="462"/>
<rect x="40" width=".4" height="499"/><rect x="41" width=".4" height="423"/><rect x="42" width=".4" height="398"/><rect x="43" width=".4" height="441"/><rect x="44" width=".4" height="418"/><rect x="45" width=".4" height="363"/><rect x="46" width=".4" height="441"/><rect x="47" width=".4" height="556"/><rect x="48" width=".4" height="457"/><rect x="49" width=".4" height="444"/>
<rect x="50" width=".4" height="625"/><rect x="51" width=".4" height="354"/><rect x="52" width=".4" height="382"/><rect x="53" width=".4" height="368"/><rect x="54" width=".4" height="400"/><rect x="55" width=".4" height="512"/><rect x="56" width=".4" height="581"/><rect x="57" width=".4" height="414"/><rect x="58" width=".4" height="524"/><rect x="59" width=".4" height="363"/>
<rect x="60" width=".4" height="453"/><rect x="61" width=".4" height="317"/><rect x="62" width=".4" height="471"/><rect x="63" width=".4" height="382"/><rect x="64" width=".4" height="471"/><rect x="65" width=".4" height="398"/><rect x="66" width=".4" height="448"/><rect x="67" width=".4" height="299"/><rect x="68" width=".4" height="480"/><rect x="69" width=".4" height="434"/>
<rect x="70" width=".4" height="471"/><rect x="71" width=".4" height="480"/><rect x="72" width=".4" height="476"/><rect x="73" width=".4" height="356"/><rect x="74" width=".4" height="459"/><rect x="75" width=".4" height="487"/><rect x="76" width=".4" height="285"/><rect x="77" width=".4" height="326"/><rect x="78" width=".4" height="407"/><rect x="79" width=".4" height="421"/>
<rect x="80" width=".4" height="459"/><rect x="81" width=".4" height="329"/><rect x="82" width=".4" height="480"/><rect x="83" width=".4" height="434"/><rect x="84" width=".4" height="480"/><rect x="85" width=".4" height="480"/><rect x="86" width=".4" height="540"/><rect x="87" width=".4" height="388"/><rect x="88" width=".4" height="444"/><rect x="89" width=".4" height="591"/>
<rect x="90" width=".4" height="575"/><rect x="91" width=".4" height="388"/><rect x="92" width=".4" height="646"/><rect x="93" width=".4" height="492"/><rect x="94" width=".4" height="411"/><rect x="95" width=".4" height="402"/><rect x="96" width=".4" height="455"/><rect x="97" width=".4" height="439"/><rect x="98" width=".4" height="416"/><rect x="99" width=".4" height="294"/>
<rect x="100" width=".4" height="379"/><rect x="101" width=".4" height="459"/><rect x="102" width=".4" height="453"/><rect x="103" width=".4" height="405"/><rect x="104" width=".4" height="444"/><rect x="105" width=".4" height="402"/><rect x="106" width=".4" height="434"/><rect x="107" width=".4" height="444"/><rect x="108" width=".4" height="453"/><rect x="109" width=".4" height="430"/>
<rect x="110" width=".4" height="439"/><rect x="111" width=".4" height="290"/>
</g>
<line x1="44" y1="743.2" x2="1242" y2="741.3" stroke="#4472c4" stroke-width="1.3" stroke-dasharray="2,1.5"/>
<g class="yl" transform="translate(49.5,809) scale(10.68,1)">
<g transform="translate(0) scale(.09363,1) rotate(-90)"><text>1906</text></g><g transform="translate(1) scale(.09363,1) rotate(-90)"><text>1907</text></g><g transform="translate(2) scale(.09363,1) rotate(-90)"><text>1908</text></g><g transform="translate(3) scale(.09363,1) rotate(-90)"><text>1909</text></g><g transform="translate(4) scale(.09363,1) rotate(-90)"><text>1910</text></g><g transform="translate(5) scale(.09363,1) rotate(-90)"><text>1911</text></g><g transform="translate(6) scale(.09363,1) rotate(-90)"><text>1912</text></g><g transform="translate(7) scale(.09363,1) rotate(-90)"><text>1913</text></g><g transform="translate(8) scale(.09363,1) rotate(-90)"><text>1914</text></g><g transform="translate(9) scale(.09363,1) rotate(-90)"><text>1915</text></g>
<g transform="translate(10) scale(.09363,1) rotate(-90)"><text>1916</text></g><g transform="translate(11) scale(.09363,1) rotate(-90)"><text>1917</text></g><g transform="translate(12) scale(.09363,1) rotate(-90)"><text>1918</text></g><g transform="translate(13) scale(.09363,1) rotate(-90)"><text>1919</text></g><g transform="translate(14) scale(.09363,1) rotate(-90)"><text>1920</text></g><g transform="translate(15) scale(.09363,1) rotate(-90)"><text>1921</text></g><g transform="translate(16) scale(.09363,1) rotate(-90)"><text>1922</text></g><g transform="translate(17) scale(.09363,1) rotate(-90)"><text>1923</text></g><g transform="translate(18) scale(.09363,1) rotate(-90)"><text>1924</text></g><g transform="translate(19) scale(.09363,1) rotate(-90)"><text>1925</text></g>
<g transform="translate(20) scale(.09363,1) rotate(-90)"><text>1926</text></g><g transform="translate(21) scale(.09363,1) rotate(-90)"><text>1927</text></g><g transform="translate(22) scale(.09363,1) rotate(-90)"><text>1928</text></g><g transform="translate(23) scale(.09363,1) rotate(-90)"><text>1929</text></g><g transform="translate(24) scale(.09363,1) rotate(-90)"><text>1930</text></g><g transform="translate(25) scale(.09363,1) rotate(-90)"><text>1931</text></g><g transform="translate(26) scale(.09363,1) rotate(-90)"><text>1932</text></g><g transform="translate(27) scale(.09363,1) rotate(-90)"><text>1933</text></g><g transform="translate(28) scale(.09363,1) rotate(-90)"><text>1934</text></g><g transform="translate(29) scale(.09363,1) rotate(-90)"><text>1935</text></g>
<g transform="translate(30) scale(.09363,1) rotate(-90)"><text>1936</text></g><g transform="translate(31) scale(.09363,1) rotate(-90)"><text>1937</text></g><g transform="translate(32) scale(.09363,1) rotate(-90)"><text>1938</text></g><g transform="translate(33) scale(.09363,1) rotate(-90)"><text>1939</text></g><g transform="translate(34) scale(.09363,1) rotate(-90)"><text>1940</text></g><g transform="translate(35) scale(.09363,1) rotate(-90)"><text>1941</text></g><g transform="translate(36) scale(.09363,1) rotate(-90)"><text>1942</text></g><g transform="translate(37) scale(.09363,1) rotate(-90)"><text>1943</text></g><g transform="translate(38) scale(.09363,1) rotate(-90)"><text>1944</text></g><g transform="translate(39) scale(.09363,1) rotate(-90)"><text>1945</text></g>
<g transform="translate(40) scale(.09363,1) rotate(-90)"><text>1946</text></g><g transform="translate(41) scale(.09363,1) rotate(-90)"><text>1947</text></g><g transform="translate(42) scale(.09363,1) rotate(-90)"><text>1948</text></g><g transform="translate(43) scale(.09363,1) rotate(-90)"><text>1949</text></g><g transform="translate(44) scale(.09363,1) rotate(-90)"><text>1950</text></g><g transform="translate(45) scale(.09363,1) rotate(-90)"><text>1951</text></g><g transform="translate(46) scale(.09363,1) rotate(-90)"><text>1952</text></g><g transform="translate(47) scale(.09363,1) rotate(-90)"><text>1953</text></g><g transform="translate(48) scale(.09363,1) rotate(-90)"><text>1954</text></g><g transform="translate(49) scale(.09363,1) rotate(-90)"><text>1955</text></g>
<g transform="translate(50) scale(.09363,1) rotate(-90)"><text>1956</text></g><g transform="translate(51) scale(.09363,1) rotate(-90)"><text>1957</text></g><g transform="translate(52) scale(.09363,1) rotate(-90)"><text>1958</text></g><g transform="translate(53) scale(.09363,1) rotate(-90)"><text>1959</text></g><g transform="translate(54) scale(.09363,1) rotate(-90)"><text>1960</text></g><g transform="translate(55) scale(.09363,1) rotate(-90)"><text>1961</text></g><g transform="translate(56) scale(.09363,1) rotate(-90)"><text>1962</text></g><g transform="translate(57) scale(.09363,1) rotate(-90)"><text>1963</text></g><g transform="translate(58) scale(.09363,1) rotate(-90)"><text>1964</text></g><g transform="translate(59) scale(.09363,1) rotate(-90)"><text>1965</text></g>
<g transform="translate(60) scale(.09363,1) rotate(-90)"><text>1966</text></g><g transform="translate(61) scale(.09363,1) rotate(-90)"><text>1967</text></g><g transform="translate(62) scale(.09363,1) rotate(-90)"><text>1968</text></g><g transform="translate(63) scale(.09363,1) rotate(-90)"><text>1969</text></g><g transform="translate(64) scale(.09363,1) rotate(-90)"><text>1970</text></g><g transform="translate(65) scale(.09363,1) rotate(-90)"><text>1971</text></g><g transform="translate(66) scale(.09363,1) rotate(-90)"><text>1972</text></g><g transform="translate(67) scale(.09363,1) rotate(-90)"><text>1973</text></g><g transform="translate(68) scale(.09363,1) rotate(-90)"><text>1974</text></g><g transform="translate(69) scale(.09363,1) rotate(-90)"><text>1975</text></g>
<g transform="translate(70) scale(.09363,1) rotate(-90)"><text>1976</text></g><g transform="translate(71) scale(.09363,1) rotate(-90)"><text>1977</text></g><g transform="translate(72) scale(.09363,1) rotate(-90)"><text>1978</text></g><g transform="translate(73) scale(.09363,1) rotate(-90)"><text>1979</text></g><g transform="translate(74) scale(.09363,1) rotate(-90)"><text>1980</text></g><g transform="translate(75) scale(.09363,1) rotate(-90)"><text>1981</text></g><g transform="translate(76) scale(.09363,1) rotate(-90)"><text>1982</text></g><g transform="translate(77) scale(.09363,1) rotate(-90)"><text>1983</text></g><g transform="translate(78) scale(.09363,1) rotate(-90)"><text>1984</text></g><g transform="translate(79) scale(.09363,1) rotate(-90)"><text>1985</text></g>
<g transform="translate(80) scale(.09363,1) rotate(-90)"><text>1986</text></g><g transform="translate(81) scale(.09363,1) rotate(-90)"><text>1987</text></g><g transform="translate(82) scale(.09363,1) rotate(-90)"><text>1988</text></g><g transform="translate(83) scale(.09363,1) rotate(-90)"><text>1989</text></g><g transform="translate(84) scale(.09363,1) rotate(-90)"><text>1990</text></g><g transform="translate(85) scale(.09363,1) rotate(-90)"><text>1991</text></g><g transform="translate(86) scale(.09363,1) rotate(-90)"><text>1992</text></g><g transform="translate(87) scale(.09363,1) rotate(-90)"><text>1993</text></g><g transform="translate(88) scale(.09363,1) rotate(-90)"><text>1994</text></g><g transform="translate(89) scale(.09363,1) rotate(-90)"><text>1995</text></g>
<g transform="translate(90) scale(.09363,1) rotate(-90)"><text>1996</text></g><g transform="translate(91) scale(.09363,1) rotate(-90)"><text>1997</text></g><g transform="translate(92) scale(.09363,1) rotate(-90)"><text>1998</text></g><g transform="translate(93) scale(.09363,1) rotate(-90)"><text>1999</text></g><g transform="translate(94) scale(.09363,1) rotate(-90)"><text>2000</text></g><g transform="translate(95) scale(.09363,1) rotate(-90)"><text>2001</text></g><g transform="translate(96) scale(.09363,1) rotate(-90)"><text>2002</text></g><g transform="translate(97) scale(.09363,1) rotate(-90)"><text>2003</text></g><g transform="translate(98) scale(.09363,1) rotate(-90)"><text>2004</text></g><g transform="translate(99) scale(.09363,1) rotate(-90)"><text>2005</text></g>
<g transform="translate(100) scale(.09363,1) rotate(-90)"><text>2006</text></g><g transform="translate(101) scale(.09363,1) rotate(-90)"><text>2007</text></g><g transform="translate(102) scale(.09363,1) rotate(-90)"><text>2008</text></g><g transform="translate(103) scale(.09363,1) rotate(-90)"><text>2009</text></g><g transform="translate(104) scale(.09363,1) rotate(-90)"><text>2010</text></g><g transform="translate(105) scale(.09363,1) rotate(-90)"><text>2011</text></g><g transform="translate(106) scale(.09363,1) rotate(-90)"><text>2012</text></g><g transform="translate(107) scale(.09363,1) rotate(-90)"><text>2013</text></g><g transform="translate(108) scale(.09363,1) rotate(-90)"><text>2014</text></g><g transform="translate(109) scale(.09363,1) rotate(-90)"><text>2015</text></g>
<g transform="translate(110) scale(.09363,1) rotate(-90)"><text>2016</text></g><g transform="translate(111) scale(.09363,1) rotate(-90)"><text>2017</text></g>
</g>
</svg>
</body></html>
